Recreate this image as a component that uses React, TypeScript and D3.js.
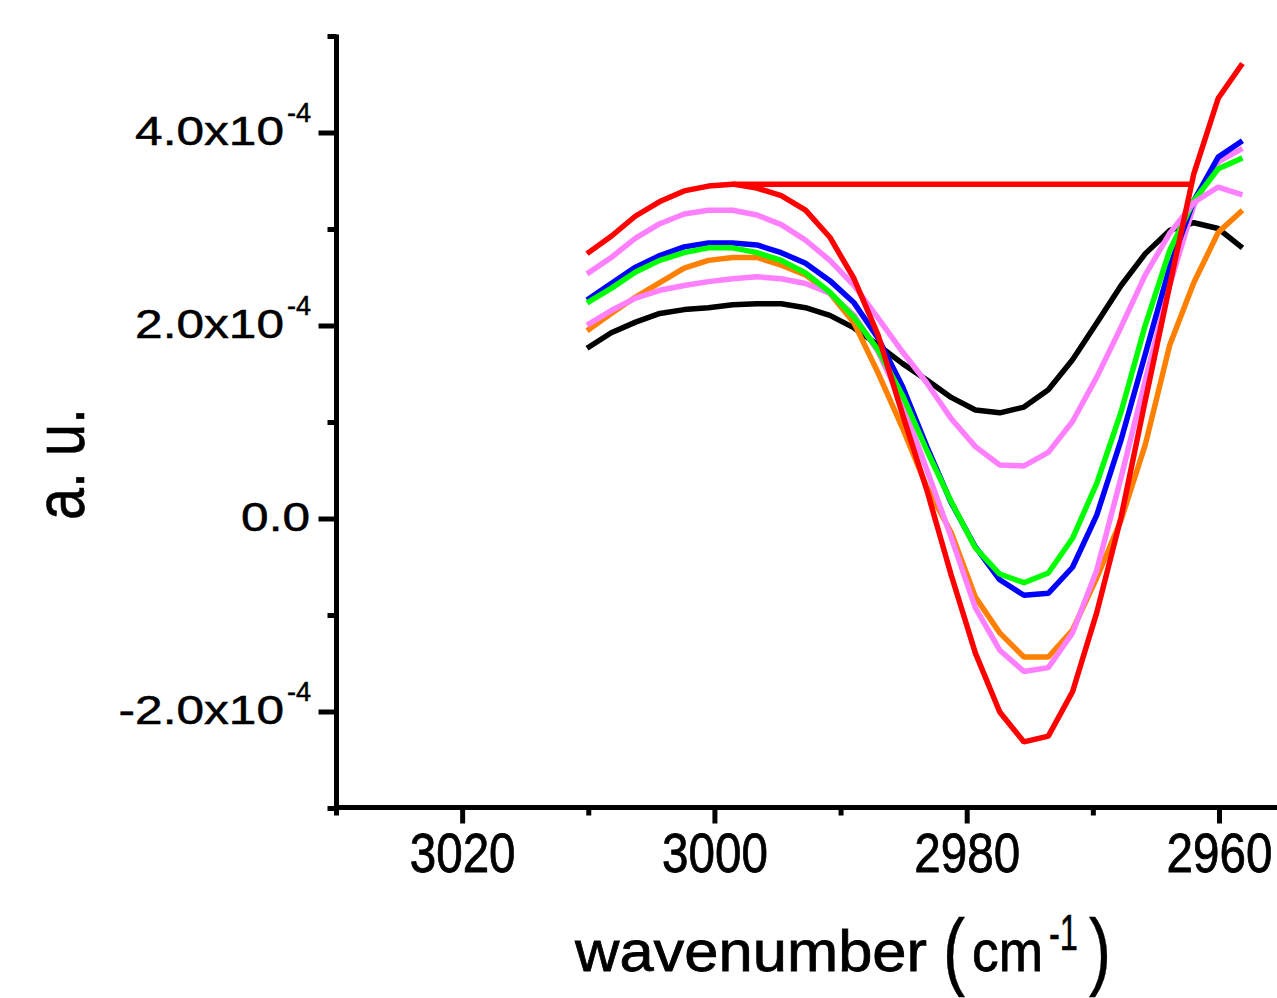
import React from 'react';
import * as d3 from 'd3';

// x values (wavenumber, cm^-1)
const wavenumbers = [
  3010.14, 3008.22, 3006.29, 3004.37, 3002.44, 3000.52, 2998.59, 2996.67,
  2994.74, 2992.82, 2990.89, 2988.97, 2987.05, 2985.12, 2983.2, 2981.27,
  2979.35, 2977.42, 2975.5, 2973.57, 2971.65, 2969.73, 2967.8, 2965.88,
  2963.95, 2962.03, 2960.1, 2958.18,
];

// series values in units of 1e-4 a.u.
const blackValues = [
  1.77, 1.93, 2.04, 2.13, 2.17, 2.19, 2.22, 2.23, 2.23, 2.19, 2.11, 1.98, 1.8, 1.61,
  1.44, 1.26, 1.13, 1.1, 1.16, 1.34, 1.65, 2.03, 2.42, 2.75, 2.99, 3.07, 3.01, 2.81,
];
const orangeValues = [
  1.95, 2.13, 2.3, 2.45, 2.6, 2.68, 2.71, 2.71, 2.63, 2.53, 2.34, 2.03, 1.51, 0.94,
  0.33, -0.14, -0.81, -1.18, -1.43, -1.43, -1.15, -0.61, -0.01, 0.77, 1.8, 2.45, 2.97, 3.2,
];
const pinkLowerValues = [
  2.01, 2.16, 2.29, 2.37, 2.42, 2.46, 2.49, 2.51, 2.49, 2.44, 2.34, 2.11, 1.73, 1.2,
  0.51, -0.19, -0.92, -1.36, -1.58, -1.54, -1.18, -0.53, 0.43, 1.44, 2.42, 3.25, 3.7, 3.84,
];
const blueValues = [
  2.27, 2.44, 2.61, 2.73, 2.82, 2.86, 2.86, 2.84, 2.76, 2.65, 2.47, 2.24, 1.87, 1.37,
  0.75, 0.17, -0.29, -0.63, -0.79, -0.77, -0.5, 0.04, 0.82, 1.71, 2.61, 3.3, 3.75, 3.92,
];
const greenValues = [
  2.24, 2.39, 2.56, 2.68, 2.76, 2.81, 2.81, 2.76, 2.68, 2.55, 2.35, 2.09, 1.75, 1.28,
  0.71, 0.18, -0.3, -0.57, -0.66, -0.56, -0.2, 0.37, 1.11, 2.01, 2.78, 3.3, 3.63, 3.74,
];
const pinkUpperValues = [
  2.54, 2.71, 2.91, 3.06, 3.16, 3.2, 3.2, 3.15, 3.05, 2.89, 2.68, 2.42, 2.08, 1.73,
  1.41, 1.04, 0.75, 0.56, 0.55, 0.69, 1.01, 1.47, 1.99, 2.53, 2.96, 3.28, 3.44, 3.36,
];
const redValues = [
  2.75, 2.93, 3.14, 3.29, 3.4, 3.45, 3.47, 3.43, 3.35, 3.2, 2.92, 2.49, 1.9, 1.08,
  0.3, -0.58, -1.39, -2.0, -2.31, -2.25, -1.79, -0.97, 0.02, 1.23, 2.42, 3.58, 4.36, 4.72,
];
const UNIT = 1e-4;

// horizontal red marker: from the left red maximum to this wavenumber
const markerSearchMin = 2990; // left peak region (wavenumber > this)
const markerEnd = 2962.3;

const seriesList = [
  { name: 'black', color: '#000000', values: blackValues },
  { name: 'orange', color: '#FF8000', values: orangeValues },
  { name: 'pinkLower', color: '#FF80FF', values: pinkLowerValues },
  { name: 'blue', color: '#0000FF', values: blueValues },
  { name: 'green', color: '#00FF00', values: greenValues },
  { name: 'pinkUpper', color: '#FF80FF', values: pinkUpperValues },
  { name: 'red', color: '#FF0000', values: redValues },
];

const xMajorTicks = [3020, 3000, 2980, 2960];
const xMinorTicks = [3030, 3010, 2990, 2970];
const yMajorTicks = [-2e-4, 0, 2e-4, 4e-4];
const yMinorTicks = [-3e-4, -1e-4, 1e-4, 3e-4, 5e-4];
const yTickMain = ['-2.0x10', '0.0', '2.0x10', '4.0x10'];
const yTickSup = ['-4', '', '-4', '-4'];

const FONT = '"Liberation Sans", Arial, Helvetica, sans-serif';

export default function App() {
  const W = 1277;
  const H = 998;
  const x = d3.scaleLinear().domain([3030, 2955]).range([336.5, 336.5 + 75 * 12.614]);
  const y = d3.scaleLinear().domain([-3e-4, 5e-4]).range([808.5, 36.5]);
  const axisX = 336.5;
  const axisY = 807.5;

  const line = d3
    .line<number>()
    .x((_, i) => x(wavenumbers[i]))
    .y((v) => y(v * UNIT));

  // left peak of red curve
  let redMaxIdx = 0;
  redValues.forEach((v, i) => {
    if (wavenumbers[i] > markerSearchMin && v > redValues[redMaxIdx]) redMaxIdx = i;
  });
  const redMax = redValues[redMaxIdx] * UNIT;

  return (
    <svg
      width={W}
      height={H}
      style={{ position: 'absolute', left: 0, top: 0, background: '#fff' }}
      fontFamily={FONT}
    >
      <rect x={0} y={0} width={W} height={H} fill="#fff" />
      {/* data lines */}
      <g fill="none" strokeWidth={5.5} strokeLinejoin="bevel">
        {seriesList.map((s) => (
          <path key={s.name} d={line(s.values) || ''} stroke={s.color} />
        ))}
        <line
          x1={x(wavenumbers[redMaxIdx])}
          x2={x(markerEnd)}
          y1={y(redMax)}
          y2={y(redMax)}
          stroke="#FF0000"
        />
      </g>

      {/* axes */}
      <g stroke="#000">
        <line x1={axisX} x2={axisX} y1={y(5e-4) - 2} y2={axisY + 2.5} strokeWidth={5} />
        <line x1={axisX - 2.5} x2={W} y1={axisY} y2={axisY} strokeWidth={5} />
        {yMajorTicks.map((t) => (
          <line key={'ym' + t} x1={axisX - 18} x2={axisX} y1={y(t)} y2={y(t)} strokeWidth={5} />
        ))}
        {yMinorTicks.map((t) => (
          <line key={'yn' + t} x1={axisX - 9} x2={axisX} y1={y(t)} y2={y(t)} strokeWidth={5} />
        ))}
        {xMajorTicks.map((t) => (
          <line key={'xm' + t} x1={x(t)} x2={x(t)} y1={axisY} y2={axisY + 16} strokeWidth={5} />
        ))}
        {xMinorTicks.map((t) => (
          <line key={'xn' + t} x1={x(t)} x2={x(t)} y1={axisY} y2={axisY + 8} strokeWidth={5} />
        ))}
      </g>

      {/* y tick labels */}
      {yMajorTicks.map((t, i) => {
        const ty = y(t);
        const hasSup = yTickSup[i] !== '';
        return (
          <g key={'yl' + t} fill="#000" stroke="#000" strokeWidth={0.5}>
            <g transform={`translate(${hasSup ? 284 : 310}, ${ty + 12}) scale(1.24, 1)`}>
              <text textAnchor="end" fontSize={40}>
                {yTickMain[i]}
              </text>
            </g>
            {hasSup && (
              <text x={287} y={ty - 11} fontSize={27}>
                {yTickSup[i]}
              </text>
            )}
          </g>
        );
      })}

      {/* x tick labels */}
      {xMajorTicks.map((t) => (
        <g key={'xl' + t} transform={`translate(${x(t)}, 872) scale(0.85, 1)`}>
          <text textAnchor="middle" fontSize={56} fill="#000" stroke="#000" strokeWidth={0.8}>
            {t}
          </text>
        </g>
      ))}

      {/* x axis title */}
      <g fill="#000" stroke="#000" strokeWidth={0.8}>
        <text x={575} y={971} fontSize={58} textLength={352} lengthAdjust="spacingAndGlyphs">
          wavenumber
        </text>
        <text x={943} y={979} fontSize={86} textLength={22} lengthAdjust="spacingAndGlyphs" strokeWidth={0.4}>
          (
        </text>
        <text x={972} y={971} fontSize={58} textLength={71} lengthAdjust="spacingAndGlyphs">
          cm
        </text>
        <g transform="translate(1049, 950) scale(1, 1.4)">
          <text x={0} y={0} fontSize={36} textLength={29} lengthAdjust="spacingAndGlyphs" strokeWidth={0.4}>
            -1
          </text>
        </g>
        <text x={1089} y={979} fontSize={86} textLength={22} lengthAdjust="spacingAndGlyphs" strokeWidth={0.4}>
          )
        </text>
      </g>

      {/* y axis title */}
      <g transform="translate(84, 464) rotate(-90) scale(1, 1.25)">
        <text
          textAnchor="middle"
          fontSize={56}
          fill="#000"
          stroke="#000"
          strokeWidth={0.5}
          textLength={112}
          lengthAdjust="spacingAndGlyphs"
        >
          a. u.
        </text>
      </g>
    </svg>
  );
}
